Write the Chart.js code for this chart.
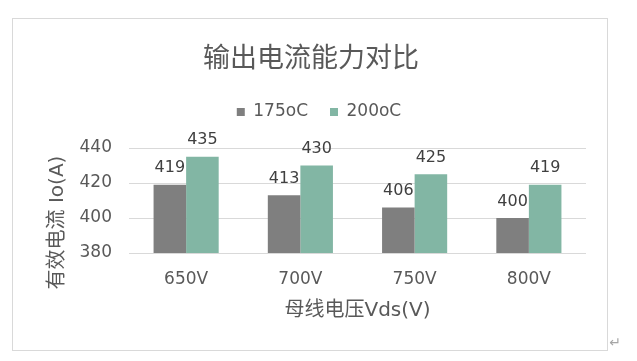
<!DOCTYPE html>
<html>
<head>
<meta charset="utf-8">
<script src="https://cdn.jsdelivr.net/npm/chart.js@4/dist/chart.umd.min.js"></script>
<style>
  html, body { margin: 0; padding: 0; background: #ffffff; }
  #wrap { width: 637px; height: 361px; }
</style>
</head>
<body>
<div id="wrap"><canvas id="c" width="637" height="361"></canvas></div>
<script>
const categories = ['650V', '700V', '750V', '800V'];
const seriesNames = ['175oC', '200oC'];
const values175 = [419, 413, 406, 400];
const values200 = [435, 430, 425, 419];
const yTicks = [380, 400, 420, 440];
const chartTitle = '输出电流能力对比';
const xTitle = '母线电压Vds(V)';
const yTitle = '有效电流 Io(A)';

const FONT = '"DejaVu Sans", "Noto Sans CJK SC", sans-serif';
const CJK = '"Noto Sans CJK SC", "DejaVu Sans", sans-serif';

const framePlugin = {
  id: 'frame',
  beforeDraw(chart) {
    const ctx = chart.ctx;
    ctx.save();
    ctx.fillStyle = '#ffffff';
    ctx.fillRect(0, 0, chart.width, chart.height);
    ctx.strokeStyle = '#d9d9d9';
    ctx.lineWidth = 1;
    ctx.strokeRect(12.5, 18.5, 595, 332);
    ctx.fillStyle = '#a6a6a6';
    ctx.font = '14px ' + FONT;
    ctx.textAlign = 'center';
    ctx.textBaseline = 'middle';
    ctx.fillText('\u21B5', 615, 343);
    ctx.restore();
  },
  afterLayout(chart) {
    const l = chart.legend;
    if (l) { l.left += 8; l.right += 8; }
  },
  afterDatasetsDraw(chart) {
    const ctx = chart.ctx;
    ctx.save();
    ctx.font = '16px ' + FONT;
    ctx.fillStyle = '#404040';
    ctx.textAlign = 'center';
    ctx.textBaseline = 'middle';
    chart.data.datasets.forEach((ds, di) => {
      const meta = chart.getDatasetMeta(di);
      meta.data.forEach((bar, i) => {
        ctx.fillText(String(ds.data[i]), bar.x, bar.y - 16.5);
      });
    });
    // y axis title
    ctx.font = '20px ' + FONT;
    ctx.fillStyle = '#595959';
    ctx.translate(57.5, 222.5);
    ctx.rotate(-Math.PI / 2);
    ctx.fillText(yTitle, 0, 0);
    ctx.restore();
  }
};

new Chart(document.getElementById('c'), {
  type: 'bar',
  data: {
    labels: categories,
    datasets: [
      { label: seriesNames[0], data: values175, backgroundColor: '#7f7f7f', borderWidth: 0,
        categoryPercentage: 0.57, barPercentage: 1.0 },
      { label: seriesNames[1], data: values200, backgroundColor: '#82b6a4', borderWidth: 0,
        categoryPercentage: 0.57, barPercentage: 1.0 }
    ]
  },
  options: {
    responsive: false,
    animation: false,
    devicePixelRatio: 1,
    layout: { padding: { top: 0, left: 36, right: 51, bottom: 38 } },
    plugins: {
      tooltip: { enabled: false },
      title: {
        display: true,
        text: chartTitle,
        color: '#595959',
        font: { family: CJK, size: 27, weight: 'normal', lineHeight: 1.2 },
        padding: { top: 40.8, bottom: 8.3 }
      },
      subtitle: {
        display: true,
        text: '',
        weight: 500,
        font: { size: 10, lineHeight: 1 },
        padding: { top: 7.5, bottom: 0 }
      },
      legend: {
        display: true,
        position: 'top',
        labels: {
          boxWidth: 8,
          boxHeight: 8,
          padding: 22,
          color: '#595959',
          font: { family: FONT, size: 17 }
        }
      }
    },
    scales: {
      x: {
        grid: { display: false, drawTicks: false },
        border: { display: false },
        ticks: { color: '#595959', font: { family: FONT, size: 17 }, padding: 16 },
        title: {
          display: true,
          text: xTitle,
          color: '#595959',
          font: { family: FONT, size: 20, lineHeight: 1.2 },
          padding: { top: 0, bottom: 0 }
        },
        afterFit(scale) { scale.height = 70; }
      },
      y: {
        min: yTicks[0],
        max: yTicks[yTicks.length - 1],
        afterBuildTicks(scale) { scale.ticks = yTicks.map(v => ({ value: v })); },
        grid: { color: '#d9d9d9', lineWidth: 1, drawTicks: false },
        border: { display: false },
        ticks: { color: '#595959', font: { family: FONT, size: 17 }, padding: 17 },
        afterFit(scale) { scale.width = 93; }
      }
    }
  },
  plugins: [framePlugin]
});
</script>
</body>
</html>
